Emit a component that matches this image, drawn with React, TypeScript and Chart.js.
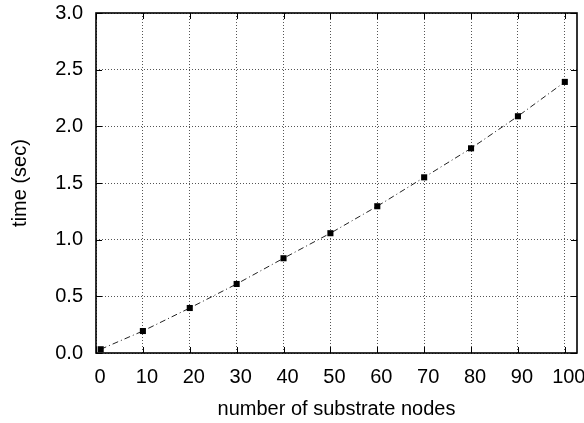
import React, { useEffect, useRef } from "react";
import { Chart, registerables } from "chart.js";

Chart.register(...registerables);

const nodes = [1, 10, 20, 30, 40, 50, 60, 70, 80, 90, 100];
const times = [0.033, 0.194, 0.397, 0.609, 0.836, 1.057, 1.295, 1.55, 1.806, 2.089, 2.392];
const xTicks = [0, 10, 20, 30, 40, 50, 60, 70, 80, 90, 100];
const yTicks = ["0.0", "0.5", "1.0", "1.5", "2.0", "2.5", "3.0"];

const FONT = "'Liberation Sans', Arial, Helvetica, sans-serif";

const framePlugin = {
  id: "frameTicks",
  afterDatasetsDraw(chart: any) {
    const { ctx, chartArea: a, scales } = chart;
    ctx.save();
    ctx.strokeStyle = "#000";
    ctx.lineWidth = 1;
    const len = 6;
    ctx.beginPath();
    for (const v of xTicks) {
      const x = Math.round(scales.x.getPixelForValue(v)) + 0.5;
      ctx.moveTo(x, a.bottom);
      ctx.lineTo(x, a.bottom - len);
      ctx.moveTo(x, a.top);
      ctx.lineTo(x, a.top + len);
    }
    for (const t of yTicks) {
      const y = Math.round(scales.y.getPixelForValue(parseFloat(t))) + 0.5;
      ctx.moveTo(a.left, y);
      ctx.lineTo(a.left + len, y);
      ctx.moveTo(a.right, y);
      ctx.lineTo(a.right - len, y);
    }
    ctx.stroke();
    ctx.lineWidth = 1.6;
    ctx.strokeRect(a.left, a.top, a.right - a.left, a.bottom - a.top);
    ctx.restore();
  },
};

export default function App() {
  const ref = useRef<HTMLCanvasElement | null>(null);
  useEffect(() => {
    if (!ref.current) return;
    const chart = new Chart(ref.current, {
      type: "line",
      data: {
        datasets: [
          {
            data: nodes.map((n, i) => ({ x: n, y: times[i] })),
            borderColor: "#222",
            borderWidth: 1,
            borderDash: [6, 3, 1, 3],
            pointStyle: "rect",
            pointRadius: 4.3,
            pointBackgroundColor: "#000",
            pointBorderColor: "#000",
            pointBorderWidth: 0,
            tension: 0,
          },
        ],
      },
      options: {
        animation: false,
        responsive: false,
        maintainAspectRatio: false,
        layout: { padding: { top: 13, right: 7, left: 0, bottom: 0 } },
        plugins: { legend: { display: false }, tooltip: { enabled: false } },
        scales: {
          x: {
            type: "linear",
            min: 0,
            max: 102.6,
            afterFit: (s: any) => {
              s.height = 70;
              s.paddingLeft = 0;
              s.paddingRight = 0;
            },
            afterBuildTicks: (s: any) => {
              s.ticks = xTicks.map((v) => ({ value: v }));
            },
            ticks: {
              includeBounds: false,
              color: "#000",
              font: { family: FONT, size: 20 },
              padding: 12,
              labelOffset: 4,
              maxRotation: 0,
              callback: (v: any) => String(v),
            },
            grid: {
              drawTicks: false,
              color: "#555",
              lineWidth: 1,
            },
            border: { display: false, dash: [1, 2] },
            title: {
              display: true,
              text: "number of substrate nodes",
              color: "#000",
              font: { family: FONT, size: 20 },
              padding: { top: 4, bottom: 2 },
            },
          },
          y: {
            type: "linear",
            min: 0,
            max: 3,
            afterFit: (s: any) => {
              s.width = 96;
              s.paddingTop = 0;
              s.paddingBottom = 0;
            },
            afterBuildTicks: (s: any) => {
              s.ticks = yTicks.map((t) => ({ value: parseFloat(t) }));
            },
            ticks: {
              includeBounds: false,
              color: "#000",
              font: { family: FONT, size: 20 },
              padding: 13,
              callback: (v: any) => Number(v).toFixed(1),
            },
            grid: {
              drawTicks: false,
              color: "#555",
              lineWidth: 1,
            },
            border: { display: false, dash: [1, 2] },
            title: {
              display: true,
              text: "time (sec)",
              color: "#000",
              font: { family: FONT, size: 20 },
              padding: { top: 8, bottom: 4 },
            },
          },
        },
      },
      plugins: [framePlugin],
    });
    return () => chart.destroy();
  }, []);
  return (
    <div style={{ position: "fixed", left: 0, top: 0, width: 584, height: 423, background: "#fff" }}>
      <canvas ref={ref} width={584} height={423} />
    </div>
  );
}
